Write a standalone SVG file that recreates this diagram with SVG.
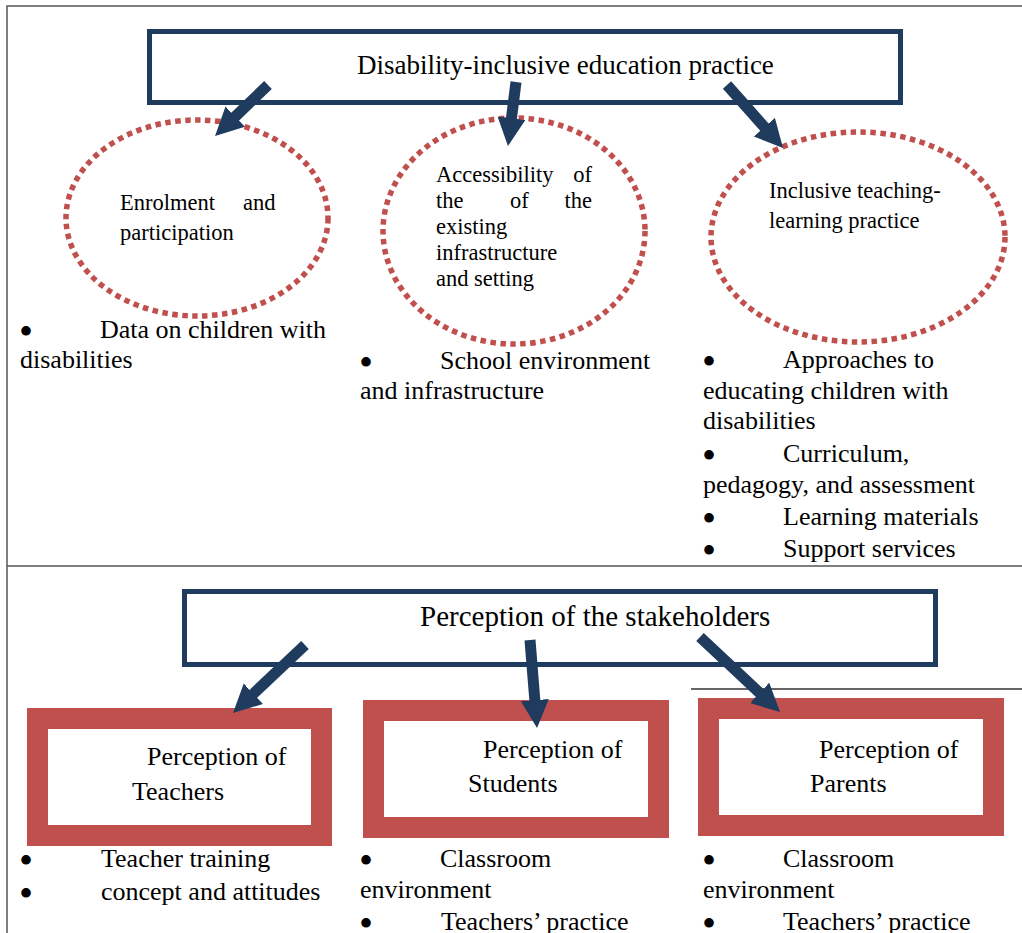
<svg xmlns="http://www.w3.org/2000/svg" width="1022" height="933" viewBox="0 0 1022 933">
<style>
text{font-family:"Liberation Serif","Times New Roman",serif;fill:#000}
.t27{font-size:27px}.t29{font-size:29px}.t26{font-size:26px}.t22{font-size:22.5px}
.bul{font-size:40px;text-anchor:middle}
.navy{fill:#fff;stroke:#1f3b5e;stroke-width:5}
.ell{fill:none;stroke:#c0504d;stroke-width:5.5;stroke-dasharray:5.5 4.5}
.red{fill:#fff;stroke:#c0504d;stroke-width:21}
.arr{stroke:#1f3b5e;stroke-width:11;fill:none;marker-end:url(#ah)}
.rule{stroke:#555;stroke-width:1.5;fill:none}
</style>
<defs>
<marker id="ah" markerUnits="userSpaceOnUse" markerWidth="30" markerHeight="30" refX="6" refY="14" orient="auto">
<path d="M0,0 L28,14 L0,28 z" fill="#1f3b5e"/>
</marker>
</defs>
<rect width="1022" height="933" fill="#fff"/>
<g id="frame">
<path class="rule" d="M7,933 V6 H1022 M7,566 H1022"/>
<path d="M691,689 H1022" stroke="#333" stroke-width="1.5"/>
</g>
<g id="practice">
<rect class="navy" x="149.5" y="31.5" width="751" height="71"/>
<text class="t27" x="357" y="74">Disability-inclusive education practice</text>
</g>
<g id="enrolment">
<ellipse class="ell" cx="197" cy="218" rx="131" ry="98"/>
<text class="t22" x="120" y="210">Enrolment</text>
<text class="t22" x="243" y="210">and</text>
<text class="t22" x="120" y="240">participation</text>
</g>
<g id="accessibility">
<ellipse class="ell" cx="514" cy="231" rx="131" ry="113"/>
<text class="t22" x="436" y="182">Accessibility</text>
<text class="t22" x="592" y="182" text-anchor="end">of</text>
<text class="t22" x="436" y="208">the</text>
<text class="t22" x="510" y="208">of</text>
<text class="t22" x="592" y="208" text-anchor="end">the</text>
<text class="t22" x="436" y="234">existing</text>
<text class="t22" x="436" y="260">infrastructure</text>
<text class="t22" x="436" y="286">and setting</text>
</g>
<g id="inclusive">
<ellipse class="ell" cx="858" cy="237" rx="147" ry="105"/>
<text class="t22" x="769" y="198">Inclusive teaching-</text>
<text class="t22" x="769" y="228">learning practice</text>
</g>
<g id="list-enrolment">
<text class="bul" x="26" y="345">•</text>
<text class="t26" x="100" y="338">Data on children with</text>
<text class="t26" x="20" y="368">disabilities</text>
</g>
<g id="list-accessibility">
<text class="bul" x="366" y="376">•</text>
<text class="t26" x="440" y="369">School environment</text>
<text class="t26" x="360" y="399">and infrastructure</text>
</g>
<g id="list-inclusive">
<text class="bul" x="709" y="375">•</text>
<text class="t26" x="783" y="368">Approaches to</text>
<text class="t26" x="703" y="399">educating children with</text>
<text class="t26" x="703" y="429">disabilities</text>
<text class="bul" x="709" y="469">•</text>
<text class="t26" x="783" y="462">Curriculum,</text>
<text class="t26" x="703" y="493">pedagogy, and assessment</text>
<text class="bul" x="709" y="532">•</text>
<text class="t26" x="783" y="525">Learning materials</text>
<text class="bul" x="709" y="564">•</text>
<text class="t26" x="783" y="557">Support services</text>
</g>
<g id="stakeholders">
<rect class="navy" x="184.5" y="591.5" width="751" height="73"/>
<text class="t29" x="420" y="626">Perception of the stakeholders</text>
</g>
<g id="teachers">
<rect class="red" x="37.5" y="718.5" width="284" height="117"/>
<text class="t26" x="147" y="765">Perception of</text>
<text class="t26" x="132" y="800">Teachers</text>
</g>
<g id="students">
<rect class="red" x="373.5" y="710.5" width="285" height="117"/>
<text class="t26" x="483" y="758">Perception of</text>
<text class="t26" x="468" y="792">Students</text>
</g>
<g id="parents">
<rect class="red" x="708.5" y="708.5" width="285" height="117"/>
<text class="t26" x="819" y="758">Perception of</text>
<text class="t26" x="810" y="792">Parents</text>
</g>
<g id="list-teachers">
<text class="bul" x="26" y="874">•</text>
<text class="t26" x="101" y="867">Teacher training</text>
<text class="bul" x="26" y="907">•</text>
<text class="t26" x="101" y="900">concept and attitudes</text>
</g>
<g id="list-students">
<text class="bul" x="366" y="874">•</text>
<text class="t26" x="440" y="867">Classroom</text>
<text class="t26" x="360" y="898">environment</text>
<text class="bul" x="366" y="937">•</text>
<text class="t26" x="441" y="930">Teachers’ practice</text>
</g>
<g id="list-parents">
<text class="bul" x="709" y="874">•</text>
<text class="t26" x="783" y="867">Classroom</text>
<text class="t26" x="703" y="898">environment</text>
<text class="bul" x="709" y="937">•</text>
<text class="t26" x="783" y="930">Teachers’ practice</text>
</g>
<g id="connectors">
<line class="arr" x1="268" y1="85" x2="230.9" y2="120.7"/>
<line class="arr" x1="516" y1="82" x2="510.7" y2="124.2"/>
<line class="arr" x1="727" y1="85" x2="768.4" y2="131.6"/>
<line class="arr" x1="305" y1="645" x2="249" y2="697.9"/>
<line class="arr" x1="530" y1="640" x2="535.3" y2="706.1"/>
<line class="arr" x1="700" y1="637" x2="764" y2="697"/>
</g>
</svg>
